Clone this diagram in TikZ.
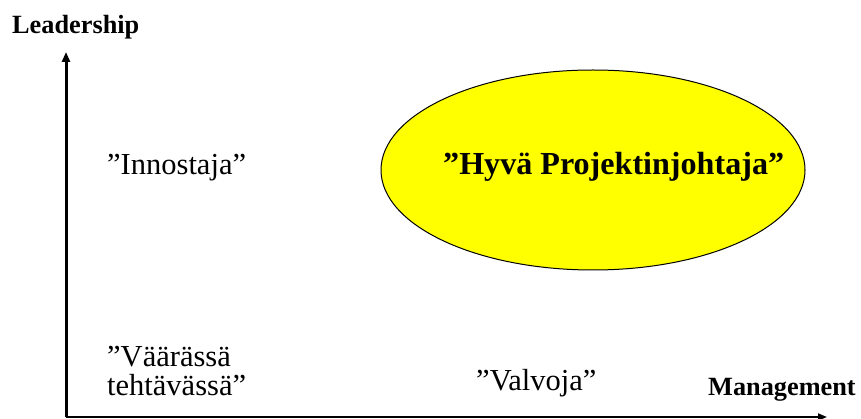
\documentclass[tikz,border=0pt]{standalone}
\usepackage{fontspec}
\setmainfont{Liberation Serif}
\usetikzlibrary{arrows.meta,shapes.geometric}
\definecolor{ellyellow}{RGB}{255,255,0}
\begin{document}
\begin{tikzpicture}[x=1pt,y=-1pt,
  lbl/.style={anchor=base west,inner sep=0pt,font=\fontsize{30.5}{29}\selectfont},
  axlbl/.style={anchor=base west,inner sep=0pt,font=\bfseries\fontsize{26.3}{30}\selectfont},
  axis/.style={-{Triangle[width=8pt,length=10pt]}}]
\useasboundingbox (0,0) rectangle (861,419);
\coordinate (O) at (66,417);
\coordinate (ytip) at (66,52);
\coordinate (xtip) at (827,417);
\node[ellipse,draw=black,line width=1pt,fill=ellyellow,minimum width=424pt,minimum height=200pt,inner sep=0pt] (good) at (593,170) {};
\node[anchor=base west,inner sep=0pt,font=\bfseries\fontsize{32.1}{36}\selectfont] (goodtxt) at (443,175) {”Hyvä Projektinjohtaja”};
\draw[axis,line width=3pt] (O) -- (ytip);
\draw[axis,line width=1.8pt,-{Triangle[width=7pt,length=9pt]}] (O) -- (xtip);
\node[axlbl] (lead) at (12,34) {Leadership};
\node[axlbl] (man) at (708,395) {Management};
\node[lbl] (inno) at (107,175) {”Innostaja”};
\node[lbl] (valv) at (476,390) {”Valvoja”};
\node[lbl] (vaar1) at (107,366) {”Väärässä};
\node[lbl] (vaar2) at (107,395) {tehtävässä”};
\end{tikzpicture}
\end{document}
